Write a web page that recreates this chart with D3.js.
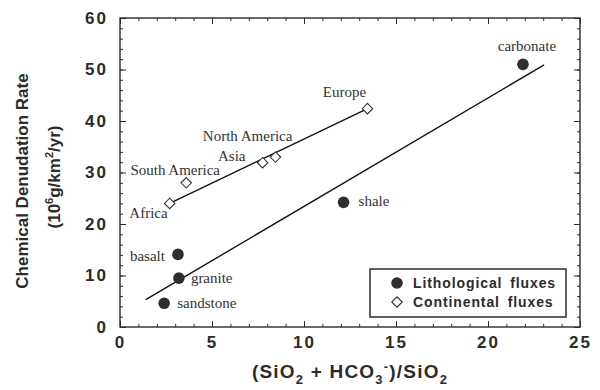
<!DOCTYPE html>
<html>
<head>
<meta charset="utf-8">
<script src="https://cdn.jsdelivr.net/npm/d3@7"></script>
<style>
  body { margin: 0; background: #fff; }
  svg { display: block; }
</style>
</head>
<body>
<script>
// lithological fluxes (filled circles)
const lithoNames = ['carbonate', 'shale', 'basalt', 'granite', 'sandstone']
const lithoX = [21.9, 12.15, 3.15, 3.2, 2.4]
const lithoY = [51.0, 24.2, 14.1, 9.5, 4.6]

// continental fluxes (open diamonds)
const contNames = ['Africa', 'South America', 'North America', 'Asia', 'Europe']
const contX = [2.7, 3.6, 7.75, 8.45, 13.45]
const contY = [24.0, 28.0, 31.9, 33.0, 42.4]

// fitted lines, end points
const lithoLineX = [1.4, 23.05]
const lithoLineY = [5.3, 50.9]
const contLineX = [2.7, 13.45]
const contLineY = [24.0, 42.4]

const xTicks = [0, 5, 10, 15, 20, 25]
const yTicks = [0, 10, 20, 30, 40, 50, 60]

// label placement (pixels relative to the mark)
const labelPos = {
  carbonate: [4, -13, 'middle'],
  shale: [15, 4, 'start'],
  basalt: [-13, 7, 'end'],
  granite: [12, 5, 'start'],
  sandstone: [13, 5, 'start'],
  'Africa': [-2, 15, 'end'],
  'South America': [-11, -8, 'middle'],
  'North America': [-15, -22, 'middle'],
  'Asia': [-30, 4, 'end'],
  'Europe': [-23, -12, 'middle'],
}

const width = 600
const height = 390
const margin = { top: 18, right: 20, bottom: 62, left: 120 }
const ink = '#2b2b2b'

const svg = d3.select('body').append('svg')
  .attr('width', width)
  .attr('height', height)

const x = d3.scaleLinear().domain([0, 25]).range([margin.left, width - margin.right])
const y = d3.scaleLinear().domain([0, 60]).range([height - margin.bottom - 1, margin.top])

const plotW = x(25) - x(0)
const plotH = y(0) - y(60)

const minorX = d3.range(0, 26, 1)
const minorY = d3.range(0, 61, 2)

function styleAxis(g) {
  g.select('.domain').remove()
  g.selectAll('.tick line').attr('stroke', ink).attr('stroke-width', 1)
  g.selectAll('.tick text')
    .attr('fill', ink)
    .style('font-family', 'Liberation Sans, Arial, sans-serif')
    .style('font-weight', 'bold')
    .style('font-size', '17px')
    .style('letter-spacing', '2px')
}

// minor ticks, all four sides
svg.append('g').attr('transform', `translate(0,${y(0)})`)
  .call(d3.axisBottom(x).tickValues(minorX).tickSize(-3).tickFormat('')).call(styleAxis)
svg.append('g').attr('transform', `translate(0,${y(60)})`)
  .call(d3.axisTop(x).tickValues(minorX).tickSize(-3).tickFormat('')).call(styleAxis)
svg.append('g').attr('transform', `translate(${x(0)},0)`)
  .call(d3.axisLeft(y).tickValues(minorY).tickSize(-3).tickFormat('')).call(styleAxis)
svg.append('g').attr('transform', `translate(${x(25)},0)`)
  .call(d3.axisRight(y).tickValues(minorY).tickSize(-3).tickFormat('')).call(styleAxis)

// major ticks
svg.append('g').attr('transform', `translate(0,${y(0)})`)
  .call(d3.axisBottom(x).tickValues(xTicks).tickSize(-6).tickPadding(9).tickFormat(d3.format('d')))
  .call(styleAxis)
svg.append('g').attr('transform', `translate(0,${y(60)})`)
  .call(d3.axisTop(x).tickValues(xTicks).tickSize(-6).tickFormat('')).call(styleAxis)
svg.append('g').attr('transform', `translate(${x(0)},0)`)
  .call(d3.axisLeft(y).tickValues(yTicks).tickSize(-6).tickPadding(12).tickFormat(d3.format('d')))
  .call(styleAxis)
svg.append('g').attr('transform', `translate(${x(25)},0)`)
  .call(d3.axisRight(y).tickValues(yTicks).tickSize(-6).tickFormat('')).call(styleAxis)

// frame
svg.append('rect')
  .attr('x', x(0)).attr('y', y(60))
  .attr('width', plotW).attr('height', plotH)
  .attr('fill', 'none').attr('stroke', ink).attr('stroke-width', 1.4)

// fit lines
const line = d3.line().x((d) => x(d[0])).y((d) => y(d[1]))
svg.append('path')
  .attr('d', line(d3.zip(lithoLineX, lithoLineY)))
  .attr('fill', 'none').attr('stroke', '#111').attr('stroke-width', 1.4)
svg.append('path')
  .attr('d', line(d3.zip(contLineX, contLineY)))
  .attr('fill', 'none').attr('stroke', '#111').attr('stroke-width', 1.4)

const diamond = d3.symbol().type(d3.symbolDiamond2).size(70)

// continental points
const contData = d3.zip(contNames, contX, contY)
svg.selectAll('.cont')
  .data(contData)
  .enter()
  .append('path')
  .attr('class', 'cont')
  .attr('transform', (d) => `translate(${x(d[1])},${y(d[2])})`)
  .attr('d', diamond)
  .attr('fill', '#fff')
  .attr('stroke', '#333')
  .attr('stroke-width', 1.1)

// lithological points
const lithoData = d3.zip(lithoNames, lithoX, lithoY)
svg.selectAll('.litho')
  .data(lithoData)
  .enter()
  .append('circle')
  .attr('class', 'litho')
  .attr('cx', (d) => x(d[1]))
  .attr('cy', (d) => y(d[2]))
  .attr('r', 5.8)
  .attr('fill', '#2e2e2e')

// point labels
svg.selectAll('.lbl')
  .data(lithoData.concat(contData))
  .enter()
  .append('text')
  .attr('class', 'lbl')
  .attr('x', (d) => x(d[1]) + labelPos[d[0]][0])
  .attr('y', (d) => y(d[2]) + labelPos[d[0]][1])
  .attr('text-anchor', (d) => labelPos[d[0]][2])
  .attr('fill', '#333')
  .style('font-family', 'Liberation Serif, Times New Roman, serif')
  .style('font-size', '15px')
  .text((d) => d[0])

// legend
const lg = svg.append('g').attr('transform', 'translate(370,269)')
lg.append('rect')
  .attr('width', 196).attr('height', 48)
  .attr('fill', '#fff').attr('stroke', ink).attr('stroke-width', 1.5)
lg.append('circle').attr('cx', 27).attr('cy', 14).attr('r', 5.8).attr('fill', '#2e2e2e')
lg.append('path').attr('transform', 'translate(27,33)').attr('d', diamond)
  .attr('fill', '#fff').attr('stroke', '#333').attr('stroke-width', 1.1)
const legendText = ['Lithological fluxes', 'Continental fluxes']
lg.selectAll('.lt')
  .data(legendText)
  .enter()
  .append('text')
  .attr('x', 43)
  .attr('y', (d, i) => 19 + i * 19)
  .attr('fill', ink)
  .style('font-family', 'Liberation Sans, Arial, sans-serif')
  .style('font-weight', 'bold')
  .style('font-size', '14px')
  .style('letter-spacing', '0.9px')
  .style('word-spacing', '3px')
  .text((d) => d)

// axis titles
const titleFont = (t, size) => t
  .attr('fill', ink)
  .style('font-family', 'Liberation Sans, Arial, sans-serif')
  .style('font-weight', 'bold')
  .style('font-size', size)

const xt = svg.append('text')
  .attr('x', (x(0) + x(25)) / 2)
  .attr('y', 378)
  .attr('text-anchor', 'middle')
  .call(titleFont, '19px')
  .style('letter-spacing', '1.2px')
xt.append('tspan').text('(SiO')
xt.append('tspan').attr('dy', 6).style('font-size', '13px').text('2')
xt.append('tspan').attr('dy', -6).text(' + HCO')
xt.append('tspan').attr('dy', 6).style('font-size', '13px').text('3')
xt.append('tspan').attr('dy', -13).style('font-size', '13px').text('-')
xt.append('tspan').attr('dy', 7).text(')/SiO')
xt.append('tspan').attr('dy', 6).style('font-size', '13px').text('2')

svg.append('text')
  .attr('transform', 'translate(28,181) rotate(-90)')
  .attr('text-anchor', 'middle')
  .call(titleFont, '17px')
  .text('Chemical Denudation Rate')

const yt = svg.append('text')
  .attr('transform', 'translate(60,177) rotate(-90)')
  .attr('text-anchor', 'middle')
  .call(titleFont, '17px')
yt.append('tspan').text('(10')
yt.append('tspan').attr('dy', -7).style('font-size', '11px').text('6')
yt.append('tspan').attr('dy', 7).text('g/km')
yt.append('tspan').attr('dy', -7).style('font-size', '11px').text('2')
yt.append('tspan').attr('dy', 7).text('/yr)')
</script>
</body>
</html>
